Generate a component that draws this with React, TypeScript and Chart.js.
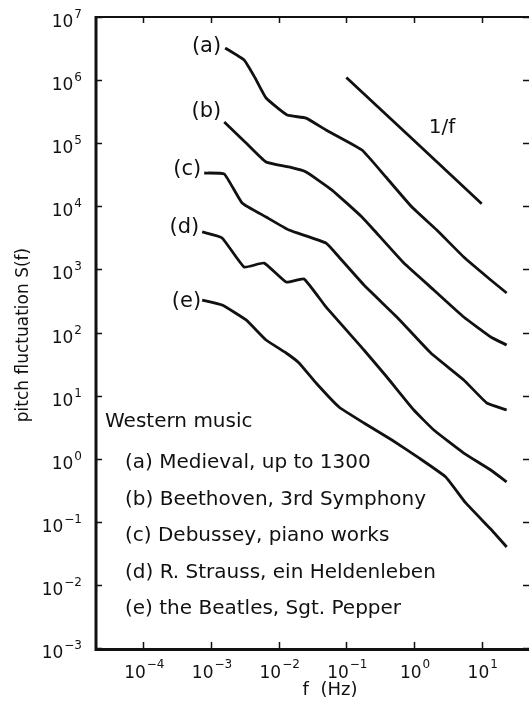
import React, { useEffect, useRef } from "react";
import { Chart, registerables } from "chart.js";

Chart.register(...registerables);

// ---- data ----
const curveNames = ["(a)", "(b)", "(c)", "(d)", "(e)"];

const freqA = [1.62e-3, 3.09e-3, 4.49e-3, 6.52e-3, 1.33e-2, 2.54e-2, 5.0e-2, 0.170, 0.384, 0.929, 2.17, 5.43, 13.6, 23.4];
const specA = [3.23e6, 2.08e6, 1.08e6, 5.2e5, 2.8e5, 2.5e5, 1.62e5, 7.8e4, 2.91e4, 9.75e3, 4.21e3, 1.57e3, 679, 423];

const freqB = [1.57e-3, 3.30e-3, 6.52e-3, 1.42e-2, 2.54e-2, 6.14e-2, 0.170, 0.255, 0.708, 1.96, 5.43, 13.6, 23.4];
const specB = [2.17e5, 1.01e5, 5.04e4, 4.2e4, 3.5e4, 1.81e4, 6.77e3, 4.21e3, 1.26e3, 472, 176, 84.9, 63.4];

const freqC = [7.94e-4, 1.57e-3, 2.88e-3, 6.52e-3, 1.42e-2, 5.0e-2, 7.78e-2, 0.182, 0.557, 1.77, 5.43, 11.9, 23.4];
const specC = [3.37e4, 3.25e4, 1.13e4, 6.77e3, 4.21e3, 2.62e3, 1.57e3, 566, 176, 47.3, 17.7, 7.63, 5.91];

const freqD = [7.41e-4, 1.46e-3, 3.09e-3, 6.10e-3, 1.29e-2, 2.37e-2, 5.0e-2, 0.182, 0.397, 0.993, 1.96, 5.43, 13.6, 23.4];
const specD = [3.92e3, 3.15e3, 1.09e3, 1.26e3, 631, 705, 254, 52.8, 19.7, 5.91, 2.85, 1.23, 0.662, 0.428];

const freqE = [7.41e-4, 1.46e-3, 3.30e-3, 6.52e-3, 1.29e-2, 2.0e-2, 3.57e-2, 7.78e-2, 0.182, 0.471, 1.18, 2.94, 5.81, 14.0, 23.4];
const specE = [327, 273, 158, 76, 47.3, 32.9, 15.8, 6.59, 3.68, 1.98, 1.03, 0.513, 0.199, 0.0741, 0.0399];

const freqRef = [0.1, 10];
const specRef = [1.1e6, 1.1e4];

const xTickValues = [1e-4, 1e-3, 1e-2, 1e-1, 1, 10];
const xTickExps = ["\u22124", "\u22123", "\u22122", "\u22121", "0", "1"];
const yTickValues = [1e7, 1e6, 1e5, 1e4, 1e3, 1e2, 1e1, 1, 1e-1, 1e-2, 1e-3];
const yTickExps = ["7", "6", "5", "4", "3", "2", "1", "0", "\u22121", "\u22122", "\u22123"];

const legendTitle = "Western music";
const legendItems = [
  "(a) Medieval, up to 1300",
  "(b) Beethoven, 3rd Symphony",
  "(c) Debussey, piano works",
  "(d) R. Strauss, ein Heldenleben",
  "(e) the Beatles, Sgt. Pepper",
];
const yTitle = "pitch fluctuation S(f)";
const xTitle = "f  (Hz)";
const refLabel = "1/f";

const X_MIN = 2e-5, X_MAX = 50, Y_MIN = 1e-3, Y_MAX = 1e7;

// ---- styles ----
const FAMILY = "'DejaVu Sans', sans-serif";
const BASE_FONT = `17px ${FAMILY}`;
const EXP_FONT = `12px ${FAMILY}`;
const TEXT_FONT = `20px ${FAMILY}`;
const INK = "#111";

const toPts = (xs: number[], ys: number[]) => xs.map((x, i) => ({ x, y: ys[i] }));

function drawPow(ctx: CanvasRenderingContext2D, exp: string, x: number, baseY: number, align: "right" | "center", rise: number) {
  ctx.font = BASE_FONT;
  const w1 = ctx.measureText("10").width;
  ctx.font = EXP_FONT;
  const w2 = ctx.measureText(exp).width;
  const total = w1 + 1 + w2;
  const left = align === "right" ? x - total : x - total / 2;
  ctx.textAlign = "left";
  ctx.textBaseline = "alphabetic";
  ctx.font = BASE_FONT;
  ctx.fillText("10", left, baseY);
  ctx.font = EXP_FONT;
  ctx.fillText(exp, left + w1 + 1, baseY - rise);
}

const decoPlugin = {
  id: "deco",
  afterDraw(chart: any) {
    const { ctx, chartArea: ca, scales } = chart;
    const xs = scales.x, ys = scales.y;
    ctx.save();
    ctx.strokeStyle = INK;
    ctx.fillStyle = INK;
    ctx.lineCap = "butt";

    // frame
    ctx.lineWidth = 3;
    ctx.beginPath();
    ctx.moveTo(ca.left, ca.top - 1);
    ctx.lineTo(ca.left, ca.bottom + 1.5);
    ctx.lineTo(ca.right + 2, ca.bottom + 1.5);
    ctx.stroke();
    ctx.lineWidth = 2;
    ctx.beginPath();
    ctx.moveTo(ca.left, ca.top);
    ctx.lineTo(ca.right + 2, ca.top);
    ctx.stroke();

    // inward ticks
    ctx.lineWidth = 1.5;
    const TL = 6;
    xTickValues.forEach((v) => {
      const px = Math.round(xs.getPixelForValue(v)) + 0.5;
      ctx.beginPath();
      ctx.moveTo(px, ca.bottom);
      ctx.lineTo(px, ca.bottom - TL);
      ctx.moveTo(px, ca.top);
      ctx.lineTo(px, ca.top + TL);
      ctx.stroke();
    });
    yTickValues.forEach((v) => {
      const py = Math.round(ys.getPixelForValue(v)) + 0.5;
      ctx.beginPath();
      ctx.moveTo(ca.left, py);
      ctx.lineTo(ca.left + TL, py);
      ctx.moveTo(ca.right, py);
      ctx.lineTo(ca.right - TL, py);
      ctx.stroke();
    });

    // tick labels
    xTickValues.forEach((v, i) => {
      const px = xs.getPixelForValue(v);
      drawPow(ctx, xTickExps[i], px + 1, ca.bottom + 30, "center", 10);
    });
    yTickValues.forEach((v, i) => {
      const py = ys.getPixelForValue(v);
      drawPow(ctx, yTickExps[i], 82, py + 10, "right", 9);
    });

    // axis titles
    ctx.font = `17px ${FAMILY}`;
    ctx.textAlign = "center";
    ctx.textBaseline = "middle";
    ctx.save();
    ctx.translate(24, 335);
    ctx.rotate(-Math.PI / 2);
    ctx.fillText(yTitle, 0, 0);
    ctx.restore();
    ctx.font = `18px ${FAMILY}`;
    ctx.fillText(xTitle, 330, 690);

    // curve labels next to start of each curve
    const starts = [
      [freqA[0], specA[0]],
      [freqB[0], specB[0]],
      [freqC[0], specC[0]],
      [freqD[0], specD[0]],
      [freqE[0], specE[0]],
    ];
    const dy = [-1, -10, -3, -4, 2];
    const dx = [-4, -3, -3, -3, -1];
    ctx.font = `21px ${FAMILY}`;
    ctx.textAlign = "right";
    ctx.textBaseline = "middle";
    starts.forEach(([f, s], i) => {
      const px = xs.getPixelForValue(f);
      const py = ys.getPixelForValue(s);
      ctx.fillText(curveNames[i], px + dx[i], py + dy[i]);
    });

    // 1/f label
    ctx.font = TEXT_FONT;
    ctx.textAlign = "center";
    ctx.fillText(refLabel, 442, 128);

    // legend text
    ctx.textAlign = "left";
    ctx.textBaseline = "alphabetic";
    ctx.fillText(legendTitle, 105, 427);
    legendItems.forEach((t, i) => {
      ctx.fillText(t, 125, 468 + i * 36.5);
    });

    ctx.restore();
  },
};

export default function App() {
  const ref = useRef<HTMLCanvasElement>(null);
  useEffect(() => {
    document.body.style.margin = "0";
    const series = [
      toPts(freqA, specA),
      toPts(freqB, specB),
      toPts(freqC, specC),
      toPts(freqD, specD),
      toPts(freqE, specE),
      toPts(freqRef, specRef),
    ];
    const chart = new Chart(ref.current!, {
      type: "line",
      data: {
        datasets: series.map((d, i) => ({
          label: i < 5 ? curveNames[i] : refLabel,
          data: d,
          borderColor: INK,
          borderWidth: 2.8,
          pointRadius: 0,
          fill: false,
          tension: 0.12,
        })),
      },
      options: {
        animation: false,
        responsive: false,
        devicePixelRatio: 1,
        layout: { padding: { left: 96, top: 17, right: 0, bottom: 63 } },
        plugins: { legend: { display: false }, tooltip: { enabled: false } },
        scales: {
          x: { type: "logarithmic", min: X_MIN, max: X_MAX, display: false },
          y: { type: "logarithmic", min: Y_MIN, max: Y_MAX, display: false },
        },
      },
      plugins: [decoPlugin],
    } as any);
    return () => chart.destroy();
  }, []);
  return (
    <div style={{ width: 529, height: 711, background: "#fff" }}>
      <canvas ref={ref} width={529} height={711} style={{ display: "block" }} />
    </div>
  );
}
